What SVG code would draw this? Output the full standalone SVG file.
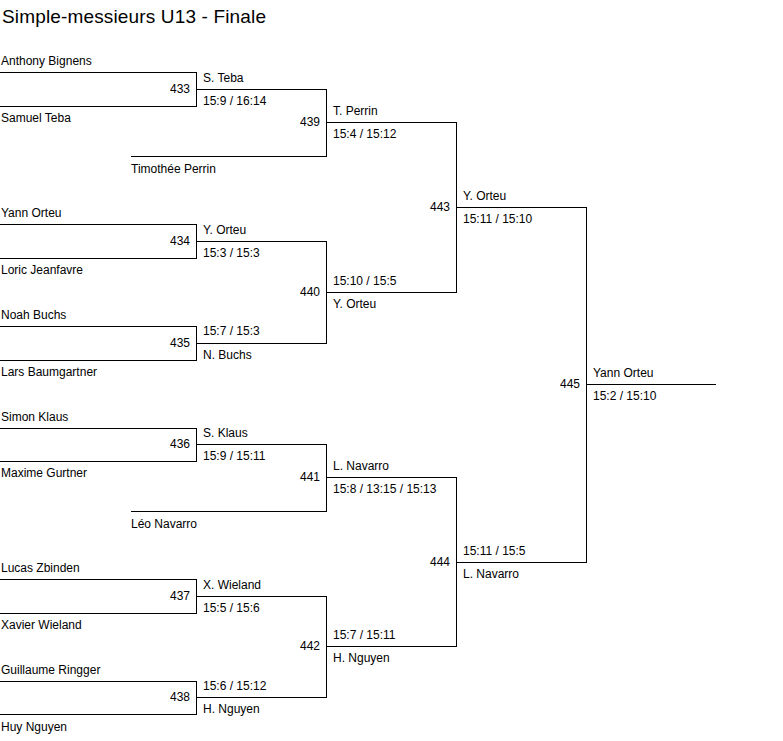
<svg xmlns="http://www.w3.org/2000/svg" width="783" height="741" viewBox="0 0 783 741">
<style>
text{font-family:"Liberation Sans",Arial,sans-serif;font-size:12px;fill:#000}
.t{font-size:19px;letter-spacing:0.15px}
.n{text-anchor:end}
.c path{fill:none;stroke:#000;stroke-width:1;shape-rendering:crispEdges}
</style>
<rect width="783" height="741" fill="#fff"/>
<text class="t" x="2" y="23">Simple-messieurs U13 - Finale</text>
<g class="c" id="connectors">
<path d="M0 72.5H196.5V106.5H0M196.5 89.5H326.5M131 156.5H326.5V89.5M326.5 122.5H456.5"/>
<path d="M0 224.5H196.5V258.5H0M196.5 241.5H326.5M0 326.5H196.5V360.5H0M196.5 343.5H326.5M326.5 241.5V343.5M326.5 292.5H456.5"/>
<path d="M456.5 122.5V292.5M456.5 207.5H586.5"/>
<path d="M0 428.5H196.5V461.5H0M196.5 444.5H326.5M131 511.5H326.5V444.5M326.5 477.5H456.5"/>
<path d="M0 579.5H196.5V613.5H0M196.5 596.5H326.5M0 681.5H196.5V714.5H0M196.5 697.5H326.5M326.5 596.5V697.5M326.5 646.5H456.5"/>
<path d="M456.5 477.5V646.5M456.5 562.5H586.5M586.5 207.5V562.5M586.5 384.5H716"/>
</g>
<g id="players">
<text x="1" y="65">Anthony Bignens</text>
<text x="1" y="122">Samuel Teba</text>
<text x="131" y="173">Timothée Perrin</text>
<text x="1" y="217">Yann Orteu</text>
<text x="1" y="274">Loric Jeanfavre</text>
<text x="1" y="319">Noah Buchs</text>
<text x="1" y="376">Lars Baumgartner</text>
<text x="1" y="421">Simon Klaus</text>
<text x="1" y="477">Maxime Gurtner</text>
<text x="131" y="528">Léo Navarro</text>
<text x="1" y="572">Lucas Zbinden</text>
<text x="1" y="629">Xavier Wieland</text>
<text x="1" y="674">Guillaume Ringger</text>
<text x="1" y="731">Huy Nguyen</text>
</g>
<g id="m433"><text class="n" x="190" y="93">433</text><text x="203" y="82">S. Teba</text><text x="203" y="105">15:9 / 16:14</text></g>
<g id="m434"><text class="n" x="190" y="245">434</text><text x="203" y="234">Y. Orteu</text><text x="203" y="257">15:3 / 15:3</text></g>
<g id="m435"><text class="n" x="190" y="347">435</text><text x="203" y="335">15:7 / 15:3</text><text x="203" y="359">N. Buchs</text></g>
<g id="m436"><text class="n" x="190" y="448">436</text><text x="203" y="437">S. Klaus</text><text x="203" y="460">15:9 / 15:11</text></g>
<g id="m437"><text class="n" x="190" y="600">437</text><text x="203" y="589">X. Wieland</text><text x="203" y="612">15:5 / 15:6</text></g>
<g id="m438"><text class="n" x="190" y="701">438</text><text x="203" y="690">15:6 / 15:12</text><text x="203" y="713">H. Nguyen</text></g>
<g id="m439"><text class="n" x="320" y="126">439</text><text x="333" y="115">T. Perrin</text><text x="333" y="138">15:4 / 15:12</text></g>
<g id="m440"><text class="n" x="320" y="296">440</text><text x="333" y="285">15:10 / 15:5</text><text x="333" y="308">Y. Orteu</text></g>
<g id="m441"><text class="n" x="320" y="481">441</text><text x="333" y="470">L. Navarro</text><text x="333" y="493">15:8 / 13:15 / 15:13</text></g>
<g id="m442"><text class="n" x="320" y="650">442</text><text x="333" y="639">15:7 / 15:11</text><text x="333" y="662">H. Nguyen</text></g>
<g id="m443"><text class="n" x="450" y="211">443</text><text x="463" y="200">Y. Orteu</text><text x="463" y="223">15:11 / 15:10</text></g>
<g id="m444"><text class="n" x="450" y="566">444</text><text x="463" y="555">15:11 / 15:5</text><text x="463" y="578">L. Navarro</text></g>
<g id="m445"><text class="n" x="580" y="388">445</text><text x="593" y="377">Yann Orteu</text><text x="593" y="400">15:2 / 15:10</text></g>
</svg>
